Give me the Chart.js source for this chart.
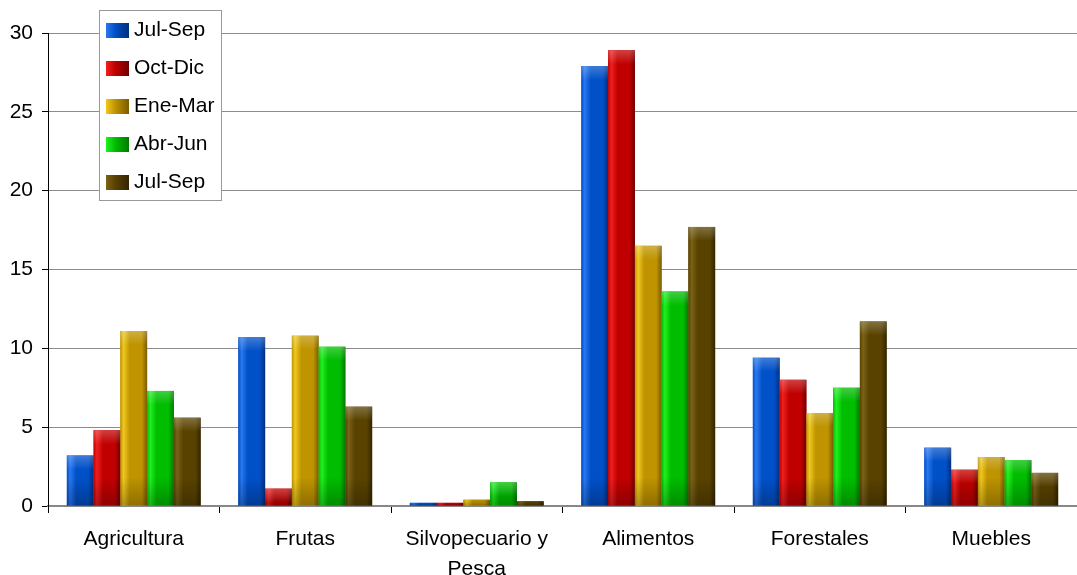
<!DOCTYPE html>
<html>
<head>
<meta charset="utf-8">
<script src="https://cdn.jsdelivr.net/npm/chart.js@4"></script>
<style>
  html, body { margin: 0; padding: 0; background: #fff; }
  #wrap { width: 1077px; height: 575px; position: relative; }
</style>
</head>
<body>
<div id="wrap"><canvas id="chart"></canvas></div>
<script>
// Data
const categories = ["Agricultura", "Frutas", ["Silvopecuario y", "Pesca"], "Alimentos", "Forestales", "Muebles"];
const seriesNames = ["Jul-Sep", "Oct-Dic", "Ene-Mar", "Abr-Jun", "Jul-Sep"];
const julSep1 = [3.2, 10.7, 0.2, 27.9, 9.4, 3.7];
const octDic = [4.8, 1.1, 0.2, 28.9, 8.0, 2.3];
const eneMar = [11.1, 10.8, 0.4, 16.5, 5.9, 3.1];
const abrJun = [7.3, 10.1, 1.5, 13.6, 7.5, 2.9];
const julSep2 = [5.6, 6.3, 0.3, 17.7, 11.7, 2.1];
const yTicks = [0, 5, 10, 15, 20, 25, 30];

// light / mid / dark shade for each series (3D look)
const shades = [
    ["#2a78f0", "#0050c8", "#002f80"],
    ["#f02020", "#c00000", "#6e0000"],
    ["#f0c820", "#bf9400", "#7a5c00"],
    ["#20f020", "#00bd00", "#007a00"],
    ["#7a6218", "#594200", "#332500"]
];

const FONT = "'Liberation Sans', Arial, sans-serif";

// Paint a shaded surface over each bar the library placed
const shadedBars = {
    id: "shadedBars",
    afterDatasetsDraw(chart) {
        const ctx = chart.ctx;
        chart.data.datasets.forEach((ds, i) => {
            const meta = chart.getDatasetMeta(i);
            const [light, mid, dark] = shades[i];
            meta.data.forEach(bar => {
                const { x, y, base, width } = bar.getProps(["x", "y", "base", "width"], true);
                const left = x - width / 2;
                const h = base - y;
                if (h <= 0) return;
                const g = ctx.createLinearGradient(left, 0, left + width, 0);
                g.addColorStop(0, mid);
                g.addColorStop(0.12, light);
                g.addColorStop(0.35, mid);
                g.addColorStop(0.8, mid);
                g.addColorStop(1, dark);
                ctx.save();
                ctx.fillStyle = g;
                ctx.fillRect(left, y, width, h);
                // darker foot of the bar
                const fh = Math.min(h, 28);
                const gb = ctx.createLinearGradient(0, base - fh, 0, base);
                gb.addColorStop(0, "rgba(0,0,0,0)");
                gb.addColorStop(1, "rgba(0,0,0,0.25)");
                ctx.fillStyle = gb;
                ctx.fillRect(left, base - fh, width, fh);
                // highlight near the top
                if (h > 10) {
                    const gt = ctx.createLinearGradient(0, y, 0, y + Math.min(h, 14));
                    gt.addColorStop(0, "rgba(255,255,255,0.25)");
                    gt.addColorStop(1, "rgba(255,255,255,0)");
                    ctx.fillStyle = gt;
                    ctx.fillRect(left, y, width, Math.min(h, 14));
                }
                ctx.restore();
            });
        });
    }
};

// Boxed legend floating over the plot, top-left
const boxedLegend = {
    id: "boxedLegend",
    afterDraw(chart) {
        const ctx = chart.ctx;
        const bx = 99, by = 10, bw = 122, bh = 190;
        ctx.save();
        ctx.fillStyle = "#fff";
        ctx.fillRect(bx, by, bw, bh);
        ctx.strokeStyle = "#999";
        ctx.lineWidth = 1;
        ctx.strokeRect(bx + 0.5, by + 0.5, bw, bh);
        ctx.font = "21px " + FONT;
        ctx.textBaseline = "middle";
        chart.data.datasets.forEach((ds, i) => {
            const cy = by + 20 + i * 38;
            const [light, mid, dark] = shades[i];
            const g = ctx.createLinearGradient(bx + 7, 0, bx + 30, 0);
            g.addColorStop(0, light);
            g.addColorStop(0.4, mid);
            g.addColorStop(1, dark);
            ctx.fillStyle = g;
            ctx.fillRect(bx + 7, cy - 7, 23, 15);
            ctx.fillStyle = "#000";
            ctx.fillText(ds.label, bx + 35, cy);
        });
        ctx.restore();
    }
};

const seriesData = [julSep1, octDic, eneMar, abrJun, julSep2];

new Chart(document.getElementById("chart"), {
    type: "bar",
    data: {
        labels: categories,
        datasets: seriesData.map((d, i) => ({
            label: seriesNames[i],
            data: d,
            backgroundColor: shades[i][1],
            borderWidth: 0,
            categoryPercentage: 0.78,
            barPercentage: 1.0
        }))
    },
    options: {
        responsive: true,
        maintainAspectRatio: false,
        animation: false,
        layout: { padding: { top: 33, right: -5, bottom: 0, left: 10 } },
        plugins: {
            legend: { display: false },
            tooltip: { enabled: false }
        },
        scales: {
            x: {
                afterFit(axis) { axis.height = 69; },
                grid: {
                    offset: true,
                    drawOnChartArea: false,
                    drawTicks: true,
                    tickLength: 7,
                    color: "#000"
                },
                border: { color: "#888", width: 2 },
                ticks: {
                    color: "#000",
                    font: { family: FONT, size: 21, lineHeight: 1.42 },
                    padding: 11,
                    maxRotation: 0,
                    autoSkip: false
                }
            },
            y: {
                min: 0,
                max: 30,
                afterBuildTicks(axis) {
                    axis.ticks = yTicks.map(v => ({ value: v }));
                },
                afterFit(axis) { axis.width = 38; },
                grid: {
                    color: "#8c8c8c",
                    lineWidth: 1,
                    drawTicks: true,
                    tickLength: 6,
                    tickColor: "#000"
                },
                border: { color: "#000", width: 1 },
                ticks: {
                    color: "#000",
                    font: { family: FONT, size: 21 },
                    padding: 9
                }
            }
        }
    },
    plugins: [shadedBars, boxedLegend]
});
</script>
</body>
</html>
